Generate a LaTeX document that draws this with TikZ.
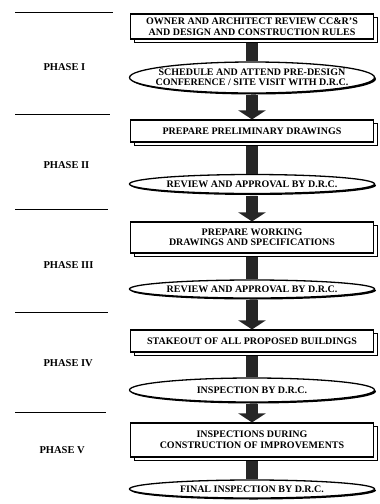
\documentclass[tikz,border=0pt]{standalone}
\usepackage{fontspec}
\setmainfont{Liberation Serif}
\usetikzlibrary{shapes.geometric,shadows,arrows.meta}

\begin{document}
\begin{tikzpicture}[x=1pt,y=-1pt]
	\tikzstyle{every node}=[font=\fontsize{10}{10.5}\selectfont\bfseries,align=center]
	\tikzstyle{slab}=[draw,fill=white,line width=1.1pt,minimum width=243pt,inner sep=1pt,
	copy shadow={shadow xshift=4pt,shadow yshift=-3.5pt,draw=black,fill=white,line width=1pt}]
	\tikzstyle{oval}=[ellipse,draw,fill=white,line width=1.3pt,minimum width=245pt,
	inner xsep=-20pt,inner ysep=0pt,
	drop shadow={shadow xshift=1.5pt,shadow yshift=-1.5pt,fill=black,opacity=1}]
	\tikzstyle{phase}=[anchor=west,font=\fontsize{10.5}{12}\selectfont\bfseries]
	\tikzstyle{shaft}=[line width=12pt,black!85]
	\tikzstyle{blockarrow}=[shaft,-{Triangle[length=9pt,width=27pt]}]
	\tikzstyle{divider}=[line width=1pt]
	
	\useasboundingbox (0,0) rectangle (380,504);
	
	% phase column
	\node[phase] (phaseI) at (40,67) {PHASE I};
	\node[phase] (phaseII) at (40,165) {PHASE II};
	\node[phase] (phaseIII) at (40,265) {PHASE III};
	\node[phase] (phaseIV) at (40,363) {PHASE IV};
	\node[phase] (phaseV) at (36,450) {PHASE V};
	\draw[divider] (15,12) -- (113,12);
	\draw[divider] (15,114) -- (110,114);
	\draw[divider] (15,209) -- (108,209);
	\draw[divider] (15,312) -- (108,312);
	\draw[divider] (15,412) -- (106,412);
	
	% flow column
	\node[slab,minimum height=25pt] (owner) at (252,26.5)
	{OWNER AND ARCHITECT REVIEW CC\&R'S\\AND DESIGN AND CONSTRUCTION RULES};
	\node[oval,minimum height=31pt] (sched) at (252,77.5)
	{SCHEDULE AND ATTEND PRE-DESIGN\\CONFERENCE / SITE VISIT WITH D.R.C.};
	\node[slab,minimum height=22pt] (prelim) at (252,131) {PREPARE PRELIMINARY DRAWINGS};
	\node[oval,minimum height=19pt] (reviewII) at (252,184) {REVIEW AND APPROVAL BY D.R.C.};
	\node[slab,minimum height=31pt] (working) at (252,237.5)
	{PREPARE WORKING\\DRAWINGS AND SPECIFICATIONS};
	\node[oval,minimum height=18pt] (reviewIII) at (252,289) {REVIEW AND APPROVAL BY D.R.C.};
	\node[slab,minimum height=22pt] (stakeout) at (252,341) {STAKEOUT OF ALL PROPOSED BUILDINGS};
	\node[oval,minimum height=24pt] (inspect) at (252,390) {INSPECTION BY D.R.C.};
	\node[slab,minimum height=34pt] (during) at (252,440)
	{INSPECTIONS DURING\\CONSTRUCTION OF IMPROVEMENTS};
	\node[oval,minimum height=18pt] (final) at (252,489) {FINAL INSPECTION BY D.R.C.};
	
	\draw[shaft,shorten <=3.5pt] (owner.south) -- (sched.north);
	\draw[blockarrow,shorten <=1.5pt] (sched.south) -- (prelim.north);
	\draw[shaft,shorten <=3.5pt] (prelim.south) -- (reviewII.north);
	\draw[blockarrow,shorten <=1.5pt] (reviewII.south) -- (working.north);
	\draw[shaft,shorten <=3.5pt] (working.south) -- (reviewIII.north);
	\draw[blockarrow,shorten <=1.5pt] (reviewIII.south) -- (stakeout.north);
	\draw[shaft,shorten <=3.5pt] (stakeout.south) -- (inspect.north);
	\draw[blockarrow,shorten <=1.5pt] (inspect.south) -- (during.north);
	\draw[shaft,shorten <=3.5pt] (during.south) -- (final.north);
\end{tikzpicture}
\end{document}
